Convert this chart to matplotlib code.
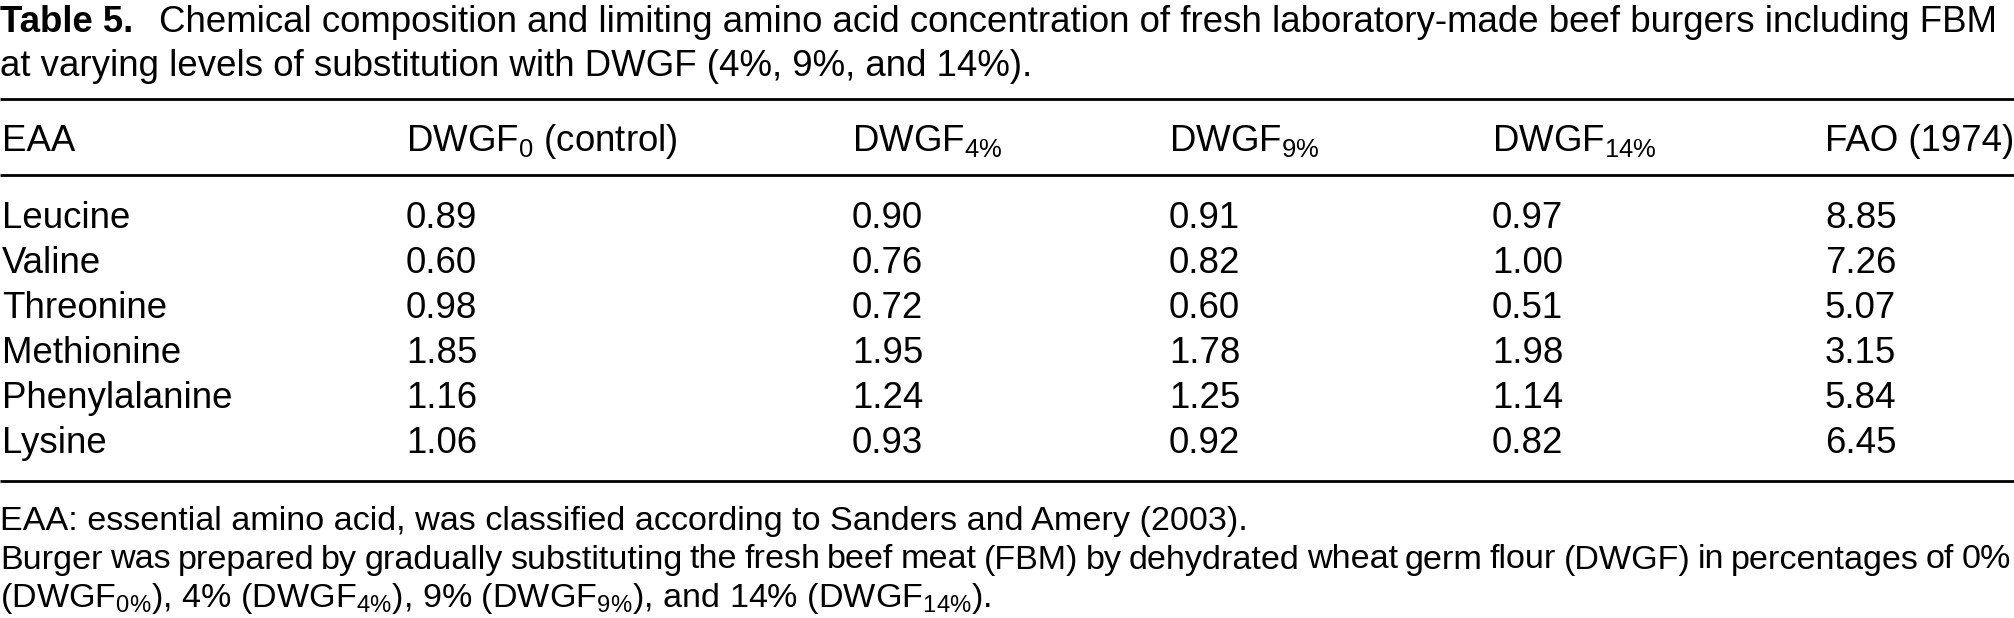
import matplotlib

matplotlib.use("Agg")
import matplotlib.pyplot as plt

plt.rcParams["font.family"] = ["Liberation Sans", "DejaVu Sans"]
plt.rcParams["mathtext.fontset"] = "custom"
plt.rcParams["mathtext.rm"] = "Liberation Sans"
plt.rcParams["mathtext.it"] = "Liberation Sans"
plt.rcParams["mathtext.default"] = "rm"

title_bold = "Table 5."
title_line1 = (
    "Chemical composition and limiting amino acid concentration of fresh "
    "laboratory-made beef burgers including FBM"
)
title_line2 = "at varying levels of substitution with DWGF (4%, 9%, and 14%)."

headers = [
    "EAA",
    "DWGF$_{0}$ (control)",
    "DWGF$_{4\\%}$",
    "DWGF$_{9\\%}$",
    "DWGF$_{14\\%}$",
    "FAO (1974)",
]
amino_acids = ["Leucine", "Valine", "Threonine", "Methionine", "Phenylalanine", "Lysine"]
dwgf_0 = [0.89, 0.60, 0.98, 1.85, 1.16, 1.06]
dwgf_4 = [0.90, 0.76, 0.72, 1.95, 1.24, 0.93]
dwgf_9 = [0.91, 0.82, 0.60, 1.78, 1.25, 0.92]
dwgf_14 = [0.97, 1.00, 0.51, 1.98, 1.14, 0.82]
fao_1974 = [8.85, 7.26, 5.07, 3.15, 5.84, 6.45]

footnote1 = "EAA: essential amino acid, was classified according to Sanders and Amery (2003)."
footnote2 = (
    "Burger was prepared by gradually substituting the fresh beef meat (FBM) by "
    "dehydrated wheat germ flour (DWGF) in percentages of 0%"
)
footnote3 = "(DWGF$_{0\\%}$), 4% (DWGF$_{4\\%}$), 9% (DWGF$_{9\\%}$), and 14% (DWGF$_{14\\%}$)."

W, H = 2014, 618
col_x = [2, 406, 852, 1169, 1492, 1825]
fs = 26.4
foot_fs = 24.6

fig = plt.figure(figsize=(W / 100, H / 100), dpi=100)
ax = fig.add_axes([0, 0, 1, 1])
ax.set_xlim(0, W)
ax.set_ylim(H, 0)
ax.axis("off")

# caption
ax.text(0, 32, title_bold, fontsize=fs, fontweight="bold", va="baseline")
ax.text(159, 32, title_line1, fontsize=fs, va="baseline")
ax.text(0, 76, title_line2, fontsize=fs, va="baseline")

# rules
for y in (99, 175, 481):
    ax.plot([0, W], [y, y], color="black", lw=2.0, solid_capstyle="butt")

for x, h in zip(col_x, headers):
    ax.text(x, 151, h, fontsize=fs, va="baseline")

columns = [dwgf_0, dwgf_4, dwgf_9, dwgf_14, fao_1974]
row_h = 45.0
for i, name in enumerate(amino_acids):
    y = 228 + i * row_h
    ax.text(col_x[0], y, name, fontsize=fs, va="baseline")
    for x, vals in zip(col_x[1:], columns):
        ax.text(x, y, f"{vals[i]:.2f}", fontsize=fs, va="baseline")

# footnotes
renderer = fig.canvas.get_renderer()
ax.text(0, 530, footnote1, fontsize=foot_fs, va="baseline")
ax.text(0, 607, footnote3, fontsize=foot_fs, va="baseline")

# second footnote line is justified to the right edge, like the typeset original
words = footnote2.split(" ")
word_texts = [ax.text(0, 568.5, w, fontsize=foot_fs, va="baseline") for w in words]
widths = [t.get_window_extent(renderer).width for t in word_texts]
gap = (2011 - sum(widths)) / (len(words) - 1)
x = 0.0
for t, w in zip(word_texts, widths):
    t.set_x(x)
    x += w + gap

fig.savefig("out.png", dpi=100)
